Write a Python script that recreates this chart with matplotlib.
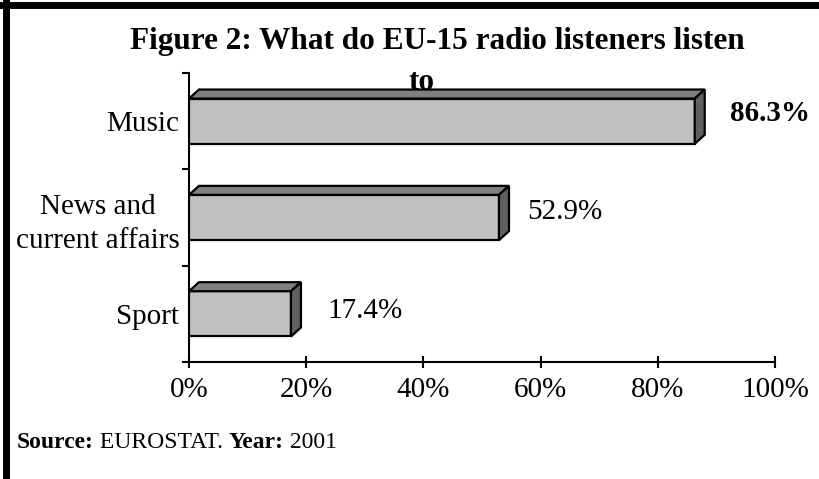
import matplotlib
matplotlib.use("Agg")
import matplotlib.pyplot as plt
from matplotlib.patches import Polygon
from matplotlib.lines import Line2D

categories = ["Sport", "News and\ncurrent affairs", "Music"]
values = [17.4, 52.9, 86.3]
value_labels = ["17.4%", "52.9%", "86.3%"]
x_ticks = [0, 20, 40, 60, 80, 100]
x_tick_labels = ["0%", "20%", "40%", "60%", "80%", "100%"]
title = "Figure 2: What do EU-15 radio listeners listen\nto"

plt.rcParams["font.family"] = ["Liberation Serif", "DejaVu Serif"]

W, H = 820, 479
fig = plt.figure(figsize=(W / 100, H / 100), dpi=100)
ax_l, ax_r, ax_t, ax_b = 189, 775, 73, 362
ax = fig.add_axes([ax_l / W, 1 - ax_b / H, (ax_r - ax_l) / W, (ax_b - ax_t) / H])
ax.set_zorder(2)
ax.patch.set_alpha(0)

ax.set_xlim(0, 100)
ax.set_ylim(-0.5, len(categories) - 0.5)

# 3d depth of the bars, in pixels converted to data units
px_x = 100 / (ax_r - ax_l)
px_y = len(categories) / (ax_b - ax_t)
dx, dy = 10 * px_x, 9 * px_y
bar_h = 0.47

ys = list(range(len(categories)))
ax.barh(ys, values, height=bar_h, color="#c0c0c0", edgecolor="black",
        linewidth=1.6, zorder=3)
for y, v in zip(ys, values):
    top = y + bar_h / 2
    bot = y - bar_h / 2
    ax.add_patch(Polygon([(0, top), (dx, top + dy), (v + dx, top + dy), (v, top)],
                         closed=True, facecolor="#808080", edgecolor="black",
                         linewidth=1.6, zorder=3, clip_on=False))
    ax.add_patch(Polygon([(v, bot), (v, top), (v + dx, top + dy), (v + dx, bot + dy)],
                         closed=True, facecolor="#606060", edgecolor="black",
                         linewidth=1.6, zorder=3, clip_on=False))

# value labels
label_gap = [26, 18, 25]
label_dy = [0.03, 0.06, 0.08]
for y, v, lab, g, ddy in zip(ys, values, value_labels, label_gap, label_dy):
    bold = lab == value_labels[-1]
    ax.text(v + dx + g * px_x, y + ddy, lab, fontsize=21, va="center", ha="left",
            fontweight="bold" if bold else "normal", clip_on=False)

ax.spines["top"].set_visible(False)
ax.spines["right"].set_visible(False)
ax.spines["left"].set_linewidth(1.5)
ax.spines["bottom"].set_linewidth(1.5)

ax.set_xticks(x_ticks)
ax.set_xticklabels(x_tick_labels, fontsize=21)
ax.tick_params(axis="x", direction="inout", length=9, width=1.5, pad=6)

ax.set_yticks(ys)
ax.set_yticklabels(categories, fontsize=21, multialignment="center",
                   linespacing=1.35)
ax.tick_params(axis="y", which="major", length=0, pad=7)
ax.set_yticks([-0.5, 0.5, 1.5, 2.5], minor=True)
ax.tick_params(axis="y", which="minor", direction="out", length=5, width=1.5)

# title sits behind the axes so the Music bar covers the "to"
line1, line2 = title.split("\n")
fig.text(437 / W, 1 - 49 / H, line1, fontsize=22.5, fontweight="bold",
         ha="center", va="baseline", zorder=1)
fig.text(422 / W, 1 - 90 / H, line2, fontsize=22.5, fontweight="bold",
         ha="center", va="baseline", zorder=1)

# source line
t1 = fig.text(17 / W, 1 - 442 / H, "Source:", fontsize=17, fontweight="bold",
              va="center")
a1 = plt.annotate(" EUROSTAT. ", xy=(1, 0), xycoords=t1, va="bottom",
                  fontsize=17, annotation_clip=False)
a2 = plt.annotate("Year:", xy=(1, 0), xycoords=a1, va="bottom",
                  fontsize=17, fontweight="bold", annotation_clip=False)
plt.annotate(" 2001", xy=(1, 0), xycoords=a2, va="bottom",
             fontsize=17, annotation_clip=False)

# frame lines on top and left
fig.add_artist(Line2D([0, 1], [1 - 5 / H, 1 - 5 / H], color="black", linewidth=5))
fig.add_artist(Line2D([6 / W, 6 / W], [0, 1], color="black", linewidth=5))

fig.savefig("out.png", dpi=100)
